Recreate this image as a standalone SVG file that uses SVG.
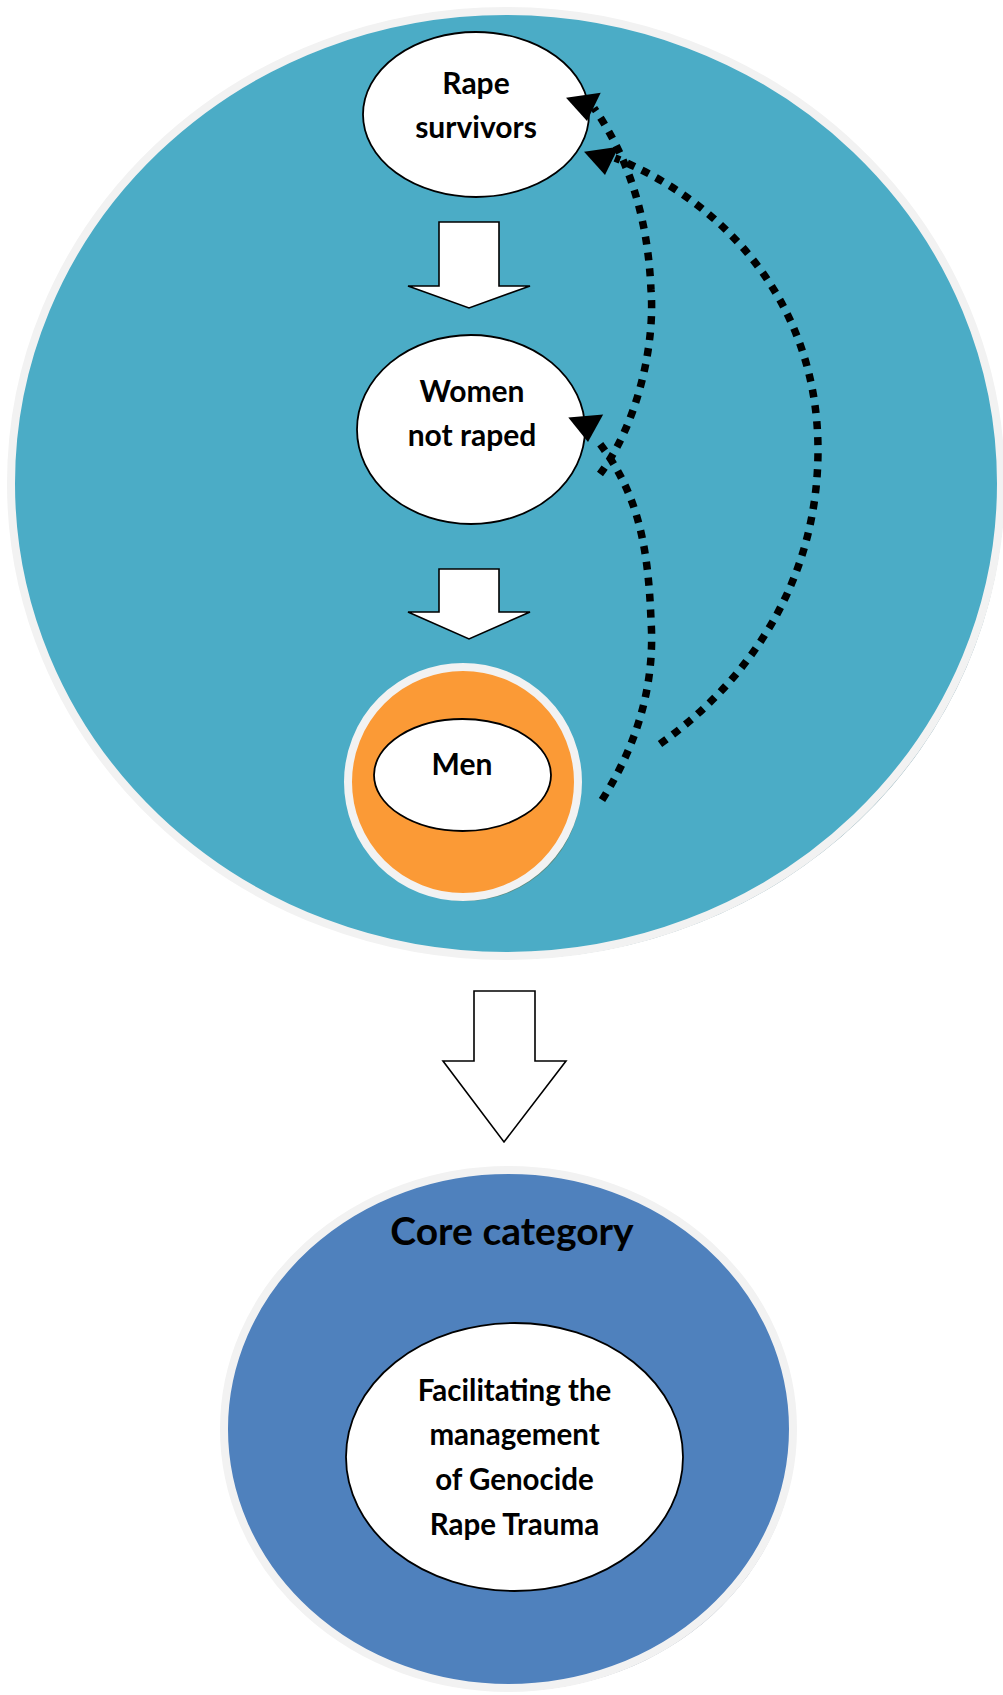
<svg xmlns="http://www.w3.org/2000/svg" width="1003" height="1695" viewBox="0 0 1003 1695">
<style>
  .lbl { font-family: Lato, "Liberation Sans", sans-serif; font-weight: bold; fill: #000; text-anchor: middle; }
  .node { fill: #ffffff; stroke: #000; stroke-width: 1.8; }
  .block { fill: #ffffff; stroke: #000; stroke-width: 1.6; stroke-linejoin: miter; }
  .rim { stroke: #f2f2f2; stroke-width: 8; }
  .dots { fill: none; stroke: #000; stroke-width: 7.5; stroke-dasharray: 8 8; }
</style>
<defs>
  <path id="ah" d="M0,0 L-26,-17.5 L-26,17.5 Z" fill="#000"/>
</defs>
<rect width="1003" height="1695" fill="#ffffff"/>

<g id="outer-teal">
  <ellipse cx="509" cy="487" rx="495" ry="472" fill="#92b0ba"/>
  <ellipse cx="506" cy="483.5" rx="495" ry="472.5" fill="#4bacc6" class="rim"/>
</g>

<g id="block-arrow-1">
  <path class="block" d="M439,222 L499,222 L499,286 L530,286 L469,308 L408,286 L439,286 Z"/>
</g>
<g id="block-arrow-2">
  <path class="block" d="M439,569 L499,569 L499,612 L530,612 L469,639 L408,612 L439,612 Z"/>
</g>

<g id="node-rape-survivors">
  <ellipse class="node" cx="476" cy="114.5" rx="113" ry="82.5"/>
  <text class="lbl" x="476" y="94" font-size="30">Rape</text>
  <text class="lbl" x="476" y="138" font-size="30">survivors</text>
</g>

<g id="node-women-not-raped">
  <ellipse class="node" cx="471" cy="429.5" rx="114" ry="94.5"/>
  <text class="lbl" x="472" y="402" font-size="30">Women</text>
  <text class="lbl" x="472" y="446" font-size="30">not raped</text>
</g>

<g id="node-men">
  <circle cx="466" cy="786" r="115" fill="#5e8c80"/>
  <circle cx="463" cy="782" r="115" fill="#fb9a36" class="rim"/>
  <ellipse class="node" cx="462.5" cy="775" rx="88.5" ry="56"/>
  <text class="lbl" x="462" y="775" font-size="30">Men</text>
</g>

<g id="connectors">
  <path class="dots" d="M600,474 C640,420 655,340 651,290 C648,220 630,160 594,108"/>
  <path class="dots" d="M602,800 C640,740 655,680 651,620 C648,540 636,490 597,440"/>
  <path class="dots" d="M660,744 C750,680 818,580 818,450 C818,300 720,200 615,158"/>
  <use href="#ah" transform="translate(587,121) rotate(82)"/>
  <use href="#ah" transform="translate(605,175) rotate(82)"/>
  <use href="#ah" transform="translate(588,442) rotate(85)"/>
</g>

<g id="block-arrow-3">
  <path class="block" d="M474,991 L535,991 L535,1061 L566,1061 L504,1142 L443,1061 L474,1061 Z"/>
</g>

<g id="node-core-category">
  <ellipse cx="511" cy="1432" rx="284.5" ry="259" fill="#9aa4b4"/>
  <ellipse cx="508.5" cy="1429" rx="284.5" ry="259" fill="#4f81bd" class="rim"/>
  <text class="lbl" x="512" y="1245" font-size="39">Core category</text>
  <ellipse class="node" cx="514.5" cy="1457" rx="168.5" ry="134"/>
  <text class="lbl" x="514.5" y="1401" font-size="29.5">Facilitating the</text>
  <text class="lbl" x="514.5" y="1445" font-size="29.5">management</text>
  <text class="lbl" x="514.5" y="1490" font-size="29.5">of Genocide</text>
  <text class="lbl" x="514.5" y="1535" font-size="29.5">Rape Trauma</text>
</g>
</svg>
